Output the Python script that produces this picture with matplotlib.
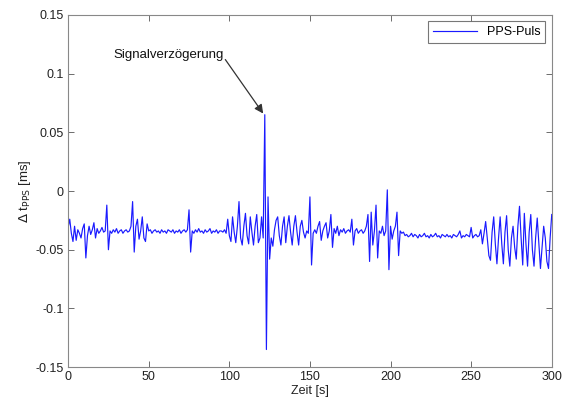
import numpy as np
import matplotlib
matplotlib.use("Agg")
import matplotlib.pyplot as plt

plt.rcParams['font.family'] = ['Liberation Sans', 'DejaVu Sans']

time_s = np.arange(0, 301, 1)
delta_t_pps = [
    # 0-24
    -0.031, -0.024, -0.036, -0.043, -0.030, -0.042, -0.033, -0.036, -0.040, -0.032,
    -0.028, -0.057, -0.038, -0.030, -0.037, -0.033, -0.027, -0.040, -0.032, -0.036,
    -0.034, -0.031, -0.035, -0.034, -0.012,
    # 25-49
    -0.050, -0.034, -0.036, -0.033, -0.035, -0.032, -0.036, -0.034, -0.033, -0.036,
    -0.034, -0.033, -0.035, -0.034, -0.030, -0.009, -0.052, -0.030, -0.024, -0.041,
    -0.034, -0.022, -0.040, -0.043, -0.028,
    # 50-74
    -0.034, -0.033, -0.036, -0.034, -0.033, -0.035, -0.034, -0.036, -0.033, -0.035,
    -0.034, -0.036, -0.033, -0.034, -0.035, -0.033, -0.036, -0.034, -0.035, -0.033,
    -0.036, -0.034, -0.033, -0.035, -0.033,
    # 75-99
    -0.016, -0.052, -0.034, -0.036, -0.033, -0.035, -0.032, -0.035, -0.034, -0.036,
    -0.033, -0.035, -0.034, -0.032, -0.036, -0.034, -0.035, -0.033, -0.036, -0.034,
    -0.034, -0.035, -0.033, -0.036, -0.024,
    # 100-124
    -0.038, -0.043, -0.022, -0.035, -0.044, -0.030, -0.009, -0.040, -0.046, -0.030,
    -0.019, -0.038, -0.045, -0.022, -0.035, -0.046, -0.030, -0.020, -0.044, -0.040,
    -0.022, -0.040, 0.065, -0.135, -0.005,
    # 125-149
    -0.058, -0.040, -0.047, -0.033, -0.025, -0.022, -0.038, -0.046, -0.030, -0.022,
    -0.044, -0.030, -0.021, -0.035, -0.046, -0.030, -0.021, -0.035, -0.046, -0.030,
    -0.025, -0.035, -0.040, -0.034, -0.036,
    # 150-174
    -0.005, -0.063, -0.036, -0.033, -0.036, -0.030, -0.026, -0.042, -0.034, -0.030,
    -0.027, -0.040, -0.034, -0.020, -0.048, -0.032, -0.036, -0.030, -0.038, -0.033,
    -0.035, -0.032, -0.036, -0.034, -0.033,
    # 175-199
    -0.035, -0.024, -0.046, -0.034, -0.032, -0.036, -0.034, -0.033, -0.036, -0.034,
    -0.030, -0.020, -0.060, -0.018, -0.046, -0.034, -0.012, -0.057, -0.034, -0.036,
    -0.030, -0.038, -0.034, 0.001, -0.067,
    # 200-224
    -0.030, -0.041, -0.034, -0.030, -0.018, -0.055, -0.034, -0.036, -0.035, -0.038,
    -0.037, -0.039, -0.038, -0.036, -0.039, -0.037, -0.038, -0.040, -0.037, -0.039,
    -0.038, -0.036, -0.039, -0.038, -0.040,
    # 225-249
    -0.037, -0.039, -0.038, -0.036, -0.039, -0.038, -0.040, -0.037, -0.038, -0.039,
    -0.037, -0.039, -0.038, -0.040, -0.037, -0.038, -0.039, -0.037, -0.034, -0.040,
    -0.038, -0.039, -0.037, -0.038, -0.039,
    # 250-274
    -0.031, -0.040, -0.038, -0.037, -0.039, -0.038, -0.033, -0.045, -0.036, -0.026,
    -0.040, -0.055, -0.059, -0.035, -0.022, -0.045, -0.062, -0.040, -0.022, -0.045,
    -0.062, -0.035, -0.021, -0.050, -0.064,
    # 275-300
    -0.040, -0.030, -0.048, -0.058, -0.030, -0.013, -0.040, -0.063, -0.019, -0.045,
    -0.064, -0.035, -0.020, -0.050, -0.064, -0.040, -0.023, -0.045, -0.066, -0.048,
    -0.030, -0.040, -0.060, -0.066, -0.040, -0.020,
]

x_ticks = [0, 50, 100, 150, 200, 250, 300]
y_ticks = [-0.15, -0.1, -0.05, 0, 0.05, 0.1, 0.15]
y_tick_labels = ['-0.15', '-0.1', '-0.05', '0', '0.05', '0.1', '0.15']
series_label = 'PPS-Puls'
annotation_text = 'Signalverzögerung'
annotation_text_pos = (62.6, 0.116)
arrow_start = (97.5, 0.112)
arrow_end = (121.0, 0.066)

fig = plt.figure(figsize=(5.63, 4.03), dpi=100)
ax = fig.add_axes([0.121, 0.089, 0.859, 0.874])
ax.plot(time_s, delta_t_pps, color='#1a1aff', linewidth=0.85, label=series_label)
ax.set_xlim(0, 300)
ax.set_ylim(-0.15, 0.15)
ax.set_xticks(x_ticks)
ax.set_xticklabels([str(v) for v in x_ticks])
ax.set_yticks(y_ticks)
ax.set_yticklabels(y_tick_labels)
ax.tick_params(direction='in', top=True, right=True, length=4, width=0.6,
               colors='#555555', labelcolor='#222222', labelsize=9, pad=3)
for sp in ax.spines.values():
    sp.set_color('#888888')
    sp.set_linewidth(0.8)
ax.set_xlabel('Zeit [s]', fontsize=9, color='#222222', labelpad=1)
ax.set_ylabel(r'$\Delta$ t$_{\mathrm{PPS}}$ [ms]', fontsize=9.5, color='#222222', labelpad=2)

ax.text(annotation_text_pos[0], annotation_text_pos[1], annotation_text,
        ha='center', va='center', fontsize=9.5, color='#111111')
ax.annotate('', xy=arrow_end, xytext=arrow_start,
            arrowprops=dict(arrowstyle='-|>', color='#333333', lw=0.9,
                            mutation_scale=13, shrinkA=0, shrinkB=0))

leg = ax.legend(loc='upper right', fontsize=9, frameon=True, fancybox=False,
                handlelength=3.5, borderpad=0.4, borderaxespad=0.5)
leg.get_frame().set_edgecolor('#555555')
leg.get_frame().set_linewidth(0.8)

fig.savefig('out.png', dpi=100, facecolor='white')
